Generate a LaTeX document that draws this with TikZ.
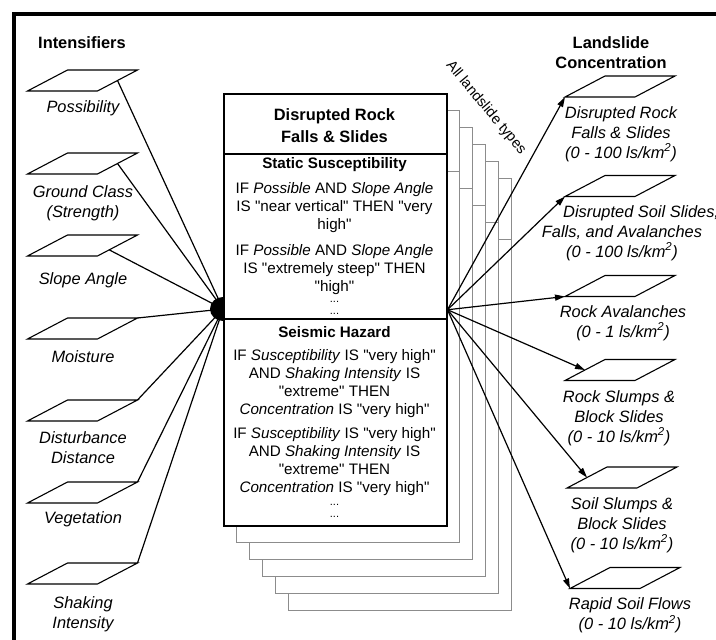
\documentclass[tikz,border=0pt]{standalone}
\usepackage{fontspec}
\setmainfont{Liberation Sans}
\usetikzlibrary{arrows.meta,calc}

% straight double quote
\newcommand\qq{\textquotedbl}

\tikzset{
  sidelabel/.style={font=\fontsize{16.4}{20}\selectfont\itshape, align=center, inner sep=0pt},
  headlabel/.style={font=\fontsize{16.4}{20}\selectfont\bfseries, align=center, inner sep=0pt},
  titlelabel/.style={font=\fontsize{16.4}{22}\selectfont\bfseries, align=center, inner sep=0pt},
  sectlabel/.style={font=\fontsize{15.2}{18}\selectfont\bfseries, inner sep=0pt},
  rulelabel/.style={font=\fontsize{15.2}{18}\selectfont, align=center, inner sep=0pt},
  dotlabel/.style={font=\fontsize{11}{12}\selectfont, align=center, inner sep=0pt},
  slabline/.style={line width=1.1pt, line join=miter},
  link/.style={line width=1.2pt},
  arrowlink/.style={link, -{Triangle[length=10pt,width=6pt]}},
  cardbox/.style={draw, fill=white, line width=1.5pt, minimum width=223pt, minimum height=432pt, inner sep=0pt, anchor=north west},
  stackbox/.style={draw=black!45, fill=white, line width=0.9pt, minimum width=223pt, minimum height=432pt, inner sep=0pt, anchor=north west},
  pics/slab/.style={code={
    \draw[slabline] (-55,10.5) -- (15,10.5) -- (55,-10.5) -- (-15,-10.5) -- cycle;
    \coordinate (-east) at (35,0);
    \coordinate (-west) at (-35,0);
    \coordinate (-ne) at (55,-10.5);
    \coordinate (-sw) at (-55,10.5);
    \coordinate (-rlow) at (27,4.5);
  }}
}

\begin{document}
\begin{tikzpicture}[x=1pt,y=-1pt]
\useasboundingbox (0,0) rectangle (716,640);
\fill[white] (0,0) rectangle (716,640);

% outer frame (left and top edges)
\draw[line width=4.3pt] (13.8,640) -- (13.8,13.8) -- (716,13.8);

% headers
\node[headlabel, anchor=west] (hleft) at (38,43) {Intensifiers};
\node[headlabel] (hright) at (611,53) {Landslide\\Concentration};

% stack of rule cards, back to front
\foreach \i in {5,4,3,2,1} {
  \node[stackbox] (card\i) at (223+13*\i, 93+17*\i) {};
  \draw[black!45, line width=0.9pt] ($(card\i.north west)+(0,61)$) -- ($(card\i.north east)+(0,61)$);
}
\node[font=\fontsize{14.5}{16}\selectfont, rotate=-50, inner sep=0pt] (alltypes) at (486,108) {All landslide types};

% hub on the left edge of the front card
\coordinate (hubL) at (223,309);
\begin{scope}
  \clip (200,290) rectangle (223,330);
  \fill (hubL) ellipse[x radius=13, y radius=12];
\end{scope}

% front card
\node[cardbox] (card) at (223,93) {};
\coordinate (hubR) at (card.east);
\draw[line width=1.5pt] ($(card.north west)+(0,61)$) -- ($(card.north east)+(0,61)$);
\draw[line width=1.5pt] ($(card.north west)+(0,226)$) -- ($(card.north east)+(0,226)$);

\node[titlelabel] (ctitle) at (334.5,126) {Disrupted Rock\\Falls \& Slides};
\node[sectlabel] (cstatic) at (334.5,165) {Static Susceptibility};
\node[rulelabel] (rule1) at (334.5,208) {IF \textit{Possible} AND \textit{Slope Angle}\\IS \qq near vertical\qq{} THEN \qq very\\high\qq};
\node[rulelabel] (rule2) at (334.5,270) {IF \textit{Possible} AND \textit{Slope Angle}\\IS \qq extremely steep\qq{} THEN\\\qq high\qq};
\node[dotlabel] (dots1) at (334.5,308) {...\\...};
\node[sectlabel] (cseismic) at (334.5,332) {Seismic Hazard};
\node[rulelabel] (rule3) at (334.5,383.5) {IF \textit{Susceptibility} IS \qq very high\qq\\AND \textit{Shaking Intensity} IS\\\qq extreme\qq{} THEN\\\textit{Concentration} IS \qq very high\qq};
\node[rulelabel] (rule4) at (334.5,462) {IF \textit{Susceptibility} IS \qq very high\qq\\AND \textit{Shaking Intensity} IS\\\qq extreme\qq{} THEN\\\textit{Concentration} IS \qq very high\qq};
\node[dotlabel] (dots2) at (334.5,511) {...\\...};

% intensifier layers
\pic (lp1) at (82.5,80.5) {slab};
\pic (lp2) at (82.5,163.5) {slab};
\pic (lp3) at (82.5,245.5) {slab};
\pic (lp4) at (82.5,328.5) {slab};
\pic (lp5) at (82.5,410.5) {slab};
\pic (lp6) at (82.5,492.5) {slab};
\pic (lp7) at (82.5,573.5) {slab};

\node[sidelabel] (ll1) at (83,108) {Possibility};
\node[sidelabel] (ll2) at (83,203) {Ground Class\\(Strength)};
\node[sidelabel] (ll3) at (83,280) {Slope Angle};
\node[sidelabel] (ll4) at (83,357) {Moisture};
\node[sidelabel] (ll5) at (83,447.5) {Disturbance\\Distance};
\node[sidelabel] (ll6) at (83,519) {Vegetation};
\node[sidelabel] (ll7) at (83,614.5) {Shaking\\Intensity};

\draw[link] (lp1-east) -- (hubL);
\draw[link] (lp2-east) -- (hubL);
\draw[link] (lp3-rlow) -- (hubL);
\draw[link] (lp4-ne) -- (hubL);
\draw[link] (lp5-ne) -- (hubL);
\draw[link] (lp6-ne) -- (hubL);
\draw[link] (lp7-ne) -- (hubL);

% landslide concentration layers
\pic (rp1) at (620,86.5) {slab};
\pic (rp2) at (620,186) {slab};
\pic (rp3) at (620,286) {slab};
\pic (rp4) at (620,370) {slab};
\pic (rp5) at (622,477.5) {slab};
\pic (rp6) at (625,578) {slab};

\node[sidelabel] (rl1) at (621,134) {Disrupted Rock\\Falls \& Slides\\(0 - 100 ls/km\textsuperscript{2})};
\node[sidelabel, anchor=west] (rl2a) at (563,213) {Disrupted Soil Slides,};
\node[sidelabel] (rl2b) at (622,243) {Falls, and Avalanches\\(0 - 100 ls/km\textsuperscript{2})};
\node[sidelabel] (rl3) at (623,323) {Rock Avalanches\\(0 - 1 ls/km\textsuperscript{2})};
\node[sidelabel] (rl4) at (619,418) {Rock Slumps \&\\Block Slides\\(0 - 10 ls/km\textsuperscript{2})};
\node[sidelabel] (rl5) at (622,525) {Soil Slumps \&\\Block Slides\\(0 - 10 ls/km\textsuperscript{2})};
\node[sidelabel] (rl6) at (630,615.5) {Rapid Soil Flows\\(0 - 10 ls/km\textsuperscript{2})};

\draw[arrowlink] (hubR) -- (rp1-sw);
\draw[arrowlink] (hubR) -- (rp2-sw);
\draw[arrowlink] (hubR) -- (rp3-sw);
\draw[arrowlink] (hubR) -- (rp4-west);
\draw[arrowlink] (hubR) -- (rp5-west);
\draw[arrowlink] (hubR) -- (rp6-sw);
\end{tikzpicture}
\end{document}
